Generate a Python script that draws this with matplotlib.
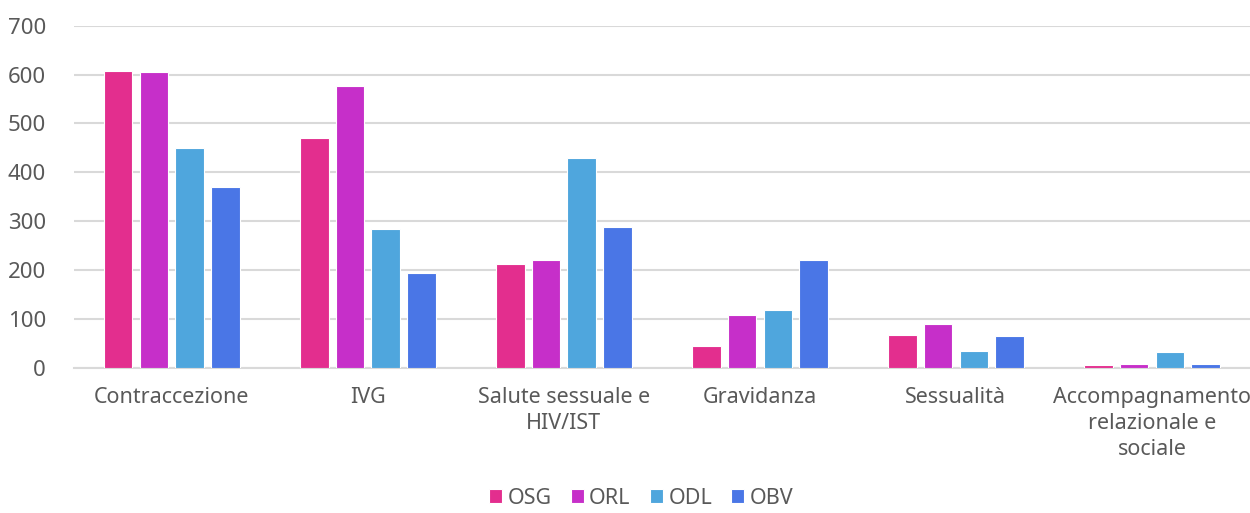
import numpy as np
import matplotlib
matplotlib.use("Agg")
import matplotlib.pyplot as plt

categories = ["Contraccezione", "IVG", "Salute sessuale e\nHIV/IST", "Gravidanza",
              "Sessualità", "Accompagnamento\nrelazionale e\nsociale"]
series = ["OSG", "ORL", "ODL", "OBV"]
osg = [608, 471, 213, 44, 67, 5]
orl = [605, 577, 221, 109, 90, 8]
odl = [450, 284, 429, 119, 34, 32]
obv = [370, 195, 289, 221, 65, 8]
colors = ["#E32E8E", "#C62FC9", "#4FA6DD", "#4A76E6"]

plt.rcParams['font.family'] = ['Noto Sans', 'DejaVu Sans']

fig = plt.figure(figsize=(12.5, 5.13), dpi=100)
ax = fig.add_axes([0.059, 0.283, 0.941, 0.667])

x = np.arange(len(categories))
step = 0.182
width = 0.145
for i, (vals, name) in enumerate(zip([osg, orl, odl, obv], series)):
    ax.bar(x + (i - 1.5) * step, vals, width, color=colors[i], label=name,
           edgecolor="white", linewidth=0.8, zorder=3)

ax.set_xlim(-0.5, len(categories) - 0.5)
ax.set_ylim(0, 700)
ax.set_yticks(range(0, 701, 100))
ax.set_xticks(x)
ax.set_xticklabels(categories, fontsize=15.5, color="#595959", linespacing=1.3)
ax.tick_params(axis="y", labelsize=16, labelcolor="#595959", length=0, pad=20)
ax.tick_params(axis="x", length=0, pad=14)
ax.grid(axis="y", color="#d9d9d9", linewidth=1.5, zorder=0)
for s in ["top", "right", "left"]:
    ax.spines[s].set_visible(False)
ax.spines["bottom"].set_color("#d9d9d9")
ax.spines["bottom"].set_linewidth(1.5)

fig.legend(loc="lower center", ncol=4, frameon=False, fontsize=15.5,
           bbox_to_anchor=(0.513, -0.025), handlelength=0.6, handleheight=0.6,
           handletextpad=0.25, columnspacing=0.9, labelcolor="#595959",
           borderpad=0.3)

fig.savefig("out.png", dpi=100)
